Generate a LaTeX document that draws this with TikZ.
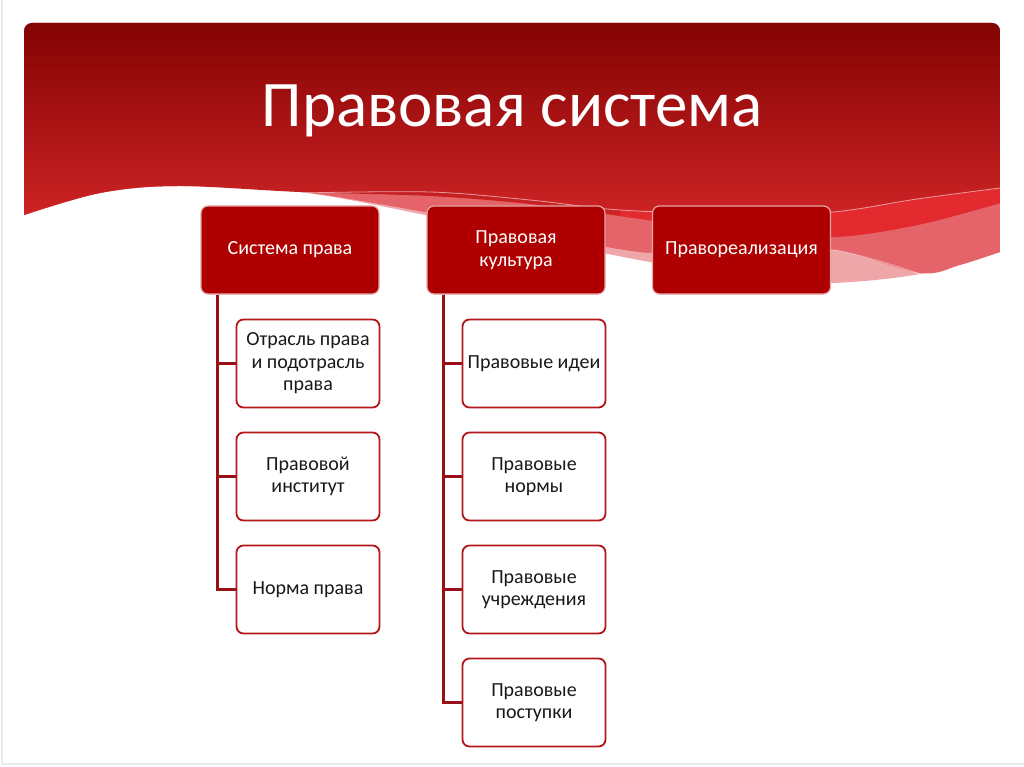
\documentclass[tikz,border=0pt]{standalone}
\usepackage{fontspec}
\setmainfont{Carlito}
\definecolor{hdtop}{HTML}{840303}
\definecolor{hdbot}{HTML}{D62729}
\definecolor{brightred}{HTML}{E22A2F}
\definecolor{pinkband}{HTML}{E4646A}
\definecolor{paleband}{HTML}{EFA6A8}
\definecolor{boxred}{HTML}{AE0000}
\definecolor{linered}{HTML}{961216}
\definecolor{childline}{HTML}{B3161B}
\tikzset{
  topbox/.style={draw=white!65!boxred, line width=1.2pt, fill=boxred, rounded corners=7pt,
    minimum width=178pt, minimum height=88pt, align=center, text=white,
    font=\fontsize{20}{23}\selectfont, inner sep=2pt},
  childbox/.style={draw=childline, line width=1.8pt, fill=white, rounded corners=7pt,
    minimum width=143pt, minimum height=88pt, align=center, text=black!90,
    font=\fontsize{20}{22.5}\selectfont, inner sep=2pt},
  conn/.style={draw=linered, line width=2.2pt},
}
\begin{document}
\begin{tikzpicture}[x=1pt,y=-1pt]
\useasboundingbox (0,0) rectangle (1024,767);
\fill[white] (0,0) rectangle (1024,767);
\draw[black!8, line width=1.5pt] (2,0) -- (2,764) -- (1024,764);
% header
\begin{scope}
\clip[rounded corners=8pt] (24,23) rectangle (1000,400);
\fill[paleband] (1000,23) -- (24,23) -- plot[smooth, tension=0.55] coordinates
  {(24,215) (100,193) (177,186) (300,192) (430,216) (560,244) (650,262) (760,280) (833,283) (920,274) (1000,252)} -- cycle;
\fill[pinkband] (1000,23) -- (24,23) -- plot[smooth, tension=0.55] coordinates
  {(24,215) (100,193) (177,186) (300,192) (430,213) (560,238) (650,253) (740,251) (833,250) (920,273) (960,265) (1000,252)} -- cycle;
\shade[top color=hdtop, bottom color=hdbot] (1000,23) -- (24,23) -- plot[smooth, tension=0.55] coordinates
  {(24,215) (100,193) (177,186) (300,192) (430,196) (530,204) (620,216) (740,232) (833,237) (917,225) (1000,203)} -- cycle;
\fill[brightred] plot[smooth, tension=0.55] coordinates
  {(620,210) (740,214) (833,212) (917,199) (1000,188)} -- plot[smooth, tension=0.55] coordinates
  {(1000,203) (917,225) (833,237) (740,232) (620,216)} -- cycle;
\draw[white, opacity=0.55, line width=0.8pt] plot[smooth, tension=0.55] coordinates
  {(300,193) (430,192) (530,200) (620,210) (740,214) (833,212) (917,199) (1000,188)};
\draw[white, opacity=0.5, line width=0.8pt] plot[smooth, tension=0.55] coordinates
  {(650,253) (740,251) (833,250) (920,274)};
\end{scope}
\node[text=white, font=\fontsize{65}{72}\selectfont] (title) at (512,111) {Правовая система};
% top row
\node[topbox] (sp) at (290,250) {Система права};
\node[topbox] (pk) at (516,250) {Правовая\\культура};
\node[topbox] (pr) at (741.5,250) {Правореализация};
% children of Система права
\node[childbox] (sp1) at (308,363.5) {Отрасль права\\и подотрасль\\права};
\node[childbox] (sp2) at (308,476.5) {Правовой\\институт};
\node[childbox] (sp3) at (308,589.5) {Норма права};
% children of Правовая культура
\node[childbox] (pk1) at (534,363.5) {Правовые идеи};
\node[childbox] (pk2) at (534,476.5) {Правовые\\нормы};
\node[childbox] (pk3) at (534,589.5) {Правовые\\учреждения};
\node[childbox] (pk4) at (534,702.5) {Правовые\\поступки};
% connectors
\coordinate (spv) at ([xshift=17pt]sp.south west);
\coordinate (pkv) at ([xshift=17pt]pk.south west);
\draw[conn] (spv) |- (sp3.west);
\draw[conn] (spv) |- (sp1.west);
\draw[conn] (spv) |- (sp2.west);
\draw[conn] (pkv) |- (pk4.west);
\draw[conn] (pkv) |- (pk1.west);
\draw[conn] (pkv) |- (pk2.west);
\draw[conn] (pkv) |- (pk3.west);
\end{tikzpicture}
\end{document}
